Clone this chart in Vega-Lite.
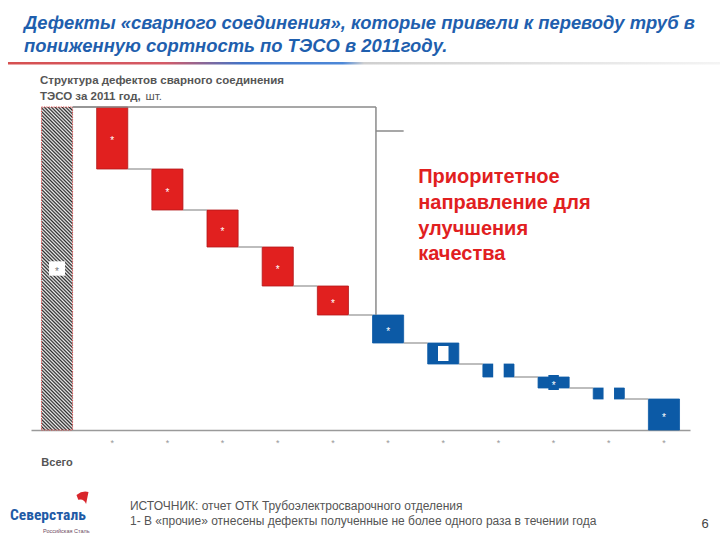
{
  "$schema": "https://vega.github.io/schema/vega-lite/v6.json",
  "autosize": {"type": "none"},
  "width": 659,
  "height": 323,
  "padding": {"left": 31, "right": 30, "top": 107, "bottom": 110},
  "background": "white",
  "config": {"view": {"stroke": null}, "font": "Liberation Sans"},
  "data": {"values": [
    {"cat": "Всего", "group": "Всего", "start": 0, "end": 323},
    {"cat": "Дефект 1", "group": "Приоритет", "start": 323, "end": 261},
    {"cat": "Дефект 2", "group": "Приоритет", "start": 261, "end": 220},
    {"cat": "Дефект 3", "group": "Приоритет", "start": 220, "end": 183},
    {"cat": "Дефект 4", "group": "Приоритет", "start": 183, "end": 144},
    {"cat": "Дефект 5", "group": "Приоритет", "start": 144, "end": 115},
    {"cat": "Дефект 6", "group": "Прочее", "start": 115, "end": 87},
    {"cat": "Дефект 7", "group": "Прочее", "start": 87, "end": 66},
    {"cat": "Дефект 8", "group": "Прочее", "start": 66, "end": 53},
    {"cat": "Дефект 9", "group": "Прочее", "start": 53, "end": 42},
    {"cat": "Дефект 10", "group": "Прочее", "start": 42, "end": 31},
    {"cat": "Прочие", "group": "Прочее", "start": 31, "end": 0}
  ]},
  "encoding": {
    "x": {
      "field": "cat", "type": "nominal", "sort": null,
      "scale": {"domain": ["Всего", "Дефект 1", "Дефект 2", "Дефект 3", "Дефект 4", "Дефект 5", "Дефект 6", "Дефект 7", "Дефект 8", "Дефект 9", "Дефект 10", "Прочие"], "paddingInner": 0.436, "paddingOuter": 0.19},
      "axis": {"title": null, "labelExpr": "datum.value == 'Всего' ? '' : '*'", "labelAngle": 0, "labelColor": "#999999", "labelFontSize": 9, "labelPadding": 8, "ticks": false, "tickSize": 0, "domainColor": "#9a9a9a", "domainWidth": 1.5, "grid": false}
    }
  },
  "layer": [
    {
      "transform": [{"filter": "datum.group == 'Всего'"}],
      "mark": {"type": "bar", "stroke": "#e04848", "strokeWidth": 1, "strokeDash": [1.2, 1.2],
        "fill": {"gradient": "linear", "x1": 0, "y1": 1, "x2": 0.1043, "y2": -0.086, "stops": [
          {"offset":0,"color":"#2a2a2a"},{"offset":0.005,"color":"#f2f2f2"},{"offset":0.01,"color":"#2a2a2a"},{"offset":0.015,"color":"#f2f2f2"},{"offset":0.02,"color":"#2a2a2a"},{"offset":0.025,"color":"#f2f2f2"},{"offset":0.03,"color":"#2a2a2a"},{"offset":0.035,"color":"#f2f2f2"},{"offset":0.04,"color":"#2a2a2a"},{"offset":0.045,"color":"#f2f2f2"},
          {"offset":0.05,"color":"#2a2a2a"},{"offset":0.055,"color":"#f2f2f2"},{"offset":0.06,"color":"#2a2a2a"},{"offset":0.065,"color":"#f2f2f2"},{"offset":0.07,"color":"#2a2a2a"},{"offset":0.075,"color":"#f2f2f2"},{"offset":0.08,"color":"#2a2a2a"},{"offset":0.085,"color":"#f2f2f2"},{"offset":0.09,"color":"#2a2a2a"},{"offset":0.095,"color":"#f2f2f2"},
          {"offset":0.1,"color":"#2a2a2a"},{"offset":0.105,"color":"#f2f2f2"},{"offset":0.11,"color":"#2a2a2a"},{"offset":0.115,"color":"#f2f2f2"},{"offset":0.12,"color":"#2a2a2a"},{"offset":0.125,"color":"#f2f2f2"},{"offset":0.13,"color":"#2a2a2a"},{"offset":0.135,"color":"#f2f2f2"},{"offset":0.14,"color":"#2a2a2a"},{"offset":0.145,"color":"#f2f2f2"},
          {"offset":0.15,"color":"#2a2a2a"},{"offset":0.155,"color":"#f2f2f2"},{"offset":0.16,"color":"#2a2a2a"},{"offset":0.165,"color":"#f2f2f2"},{"offset":0.17,"color":"#2a2a2a"},{"offset":0.175,"color":"#f2f2f2"},{"offset":0.18,"color":"#2a2a2a"},{"offset":0.185,"color":"#f2f2f2"},{"offset":0.19,"color":"#2a2a2a"},{"offset":0.195,"color":"#f2f2f2"},
          {"offset":0.2,"color":"#2a2a2a"},{"offset":0.205,"color":"#f2f2f2"},{"offset":0.21,"color":"#2a2a2a"},{"offset":0.215,"color":"#f2f2f2"},{"offset":0.22,"color":"#2a2a2a"},{"offset":0.225,"color":"#f2f2f2"},{"offset":0.23,"color":"#2a2a2a"},{"offset":0.235,"color":"#f2f2f2"},{"offset":0.24,"color":"#2a2a2a"},{"offset":0.245,"color":"#f2f2f2"},
          {"offset":0.25,"color":"#2a2a2a"},{"offset":0.255,"color":"#f2f2f2"},{"offset":0.26,"color":"#2a2a2a"},{"offset":0.265,"color":"#f2f2f2"},{"offset":0.27,"color":"#2a2a2a"},{"offset":0.275,"color":"#f2f2f2"},{"offset":0.28,"color":"#2a2a2a"},{"offset":0.285,"color":"#f2f2f2"},{"offset":0.29,"color":"#2a2a2a"},{"offset":0.295,"color":"#f2f2f2"},
          {"offset":0.3,"color":"#2a2a2a"},{"offset":0.305,"color":"#f2f2f2"},{"offset":0.31,"color":"#2a2a2a"},{"offset":0.315,"color":"#f2f2f2"},{"offset":0.32,"color":"#2a2a2a"},{"offset":0.325,"color":"#f2f2f2"},{"offset":0.33,"color":"#2a2a2a"},{"offset":0.335,"color":"#f2f2f2"},{"offset":0.34,"color":"#2a2a2a"},{"offset":0.345,"color":"#f2f2f2"},
          {"offset":0.35,"color":"#2a2a2a"},{"offset":0.355,"color":"#f2f2f2"},{"offset":0.36,"color":"#2a2a2a"},{"offset":0.365,"color":"#f2f2f2"},{"offset":0.37,"color":"#2a2a2a"},{"offset":0.375,"color":"#f2f2f2"},{"offset":0.38,"color":"#2a2a2a"},{"offset":0.385,"color":"#f2f2f2"},{"offset":0.39,"color":"#2a2a2a"},{"offset":0.395,"color":"#f2f2f2"},
          {"offset":0.4,"color":"#2a2a2a"},{"offset":0.405,"color":"#f2f2f2"},{"offset":0.41,"color":"#2a2a2a"},{"offset":0.415,"color":"#f2f2f2"},{"offset":0.42,"color":"#2a2a2a"},{"offset":0.425,"color":"#f2f2f2"},{"offset":0.43,"color":"#2a2a2a"},{"offset":0.435,"color":"#f2f2f2"},{"offset":0.44,"color":"#2a2a2a"},{"offset":0.445,"color":"#f2f2f2"},
          {"offset":0.45,"color":"#2a2a2a"},{"offset":0.455,"color":"#f2f2f2"},{"offset":0.46,"color":"#2a2a2a"},{"offset":0.465,"color":"#f2f2f2"},{"offset":0.47,"color":"#2a2a2a"},{"offset":0.475,"color":"#f2f2f2"},{"offset":0.48,"color":"#2a2a2a"},{"offset":0.485,"color":"#f2f2f2"},{"offset":0.49,"color":"#2a2a2a"},{"offset":0.495,"color":"#f2f2f2"},
          {"offset":0.5,"color":"#2a2a2a"},{"offset":0.505,"color":"#f2f2f2"},{"offset":0.51,"color":"#2a2a2a"},{"offset":0.515,"color":"#f2f2f2"},{"offset":0.52,"color":"#2a2a2a"},{"offset":0.525,"color":"#f2f2f2"},{"offset":0.53,"color":"#2a2a2a"},{"offset":0.535,"color":"#f2f2f2"},{"offset":0.54,"color":"#2a2a2a"},{"offset":0.545,"color":"#f2f2f2"},
          {"offset":0.55,"color":"#2a2a2a"},{"offset":0.555,"color":"#f2f2f2"},{"offset":0.56,"color":"#2a2a2a"},{"offset":0.565,"color":"#f2f2f2"},{"offset":0.57,"color":"#2a2a2a"},{"offset":0.575,"color":"#f2f2f2"},{"offset":0.58,"color":"#2a2a2a"},{"offset":0.585,"color":"#f2f2f2"},{"offset":0.59,"color":"#2a2a2a"},{"offset":0.595,"color":"#f2f2f2"},
          {"offset":0.6,"color":"#2a2a2a"},{"offset":0.605,"color":"#f2f2f2"},{"offset":0.61,"color":"#2a2a2a"},{"offset":0.615,"color":"#f2f2f2"},{"offset":0.62,"color":"#2a2a2a"},{"offset":0.625,"color":"#f2f2f2"},{"offset":0.63,"color":"#2a2a2a"},{"offset":0.635,"color":"#f2f2f2"},{"offset":0.64,"color":"#2a2a2a"},{"offset":0.645,"color":"#f2f2f2"},
          {"offset":0.65,"color":"#2a2a2a"},{"offset":0.655,"color":"#f2f2f2"},{"offset":0.66,"color":"#2a2a2a"},{"offset":0.665,"color":"#f2f2f2"},{"offset":0.67,"color":"#2a2a2a"},{"offset":0.675,"color":"#f2f2f2"},{"offset":0.68,"color":"#2a2a2a"},{"offset":0.685,"color":"#f2f2f2"},{"offset":0.69,"color":"#2a2a2a"},{"offset":0.695,"color":"#f2f2f2"},
          {"offset":0.7,"color":"#2a2a2a"},{"offset":0.705,"color":"#f2f2f2"},{"offset":0.71,"color":"#2a2a2a"},{"offset":0.715,"color":"#f2f2f2"},{"offset":0.72,"color":"#2a2a2a"},{"offset":0.725,"color":"#f2f2f2"},{"offset":0.73,"color":"#2a2a2a"},{"offset":0.735,"color":"#f2f2f2"},{"offset":0.74,"color":"#2a2a2a"},{"offset":0.745,"color":"#f2f2f2"},
          {"offset":0.75,"color":"#2a2a2a"},{"offset":0.755,"color":"#f2f2f2"},{"offset":0.76,"color":"#2a2a2a"},{"offset":0.765,"color":"#f2f2f2"},{"offset":0.77,"color":"#2a2a2a"},{"offset":0.775,"color":"#f2f2f2"},{"offset":0.78,"color":"#2a2a2a"},{"offset":0.785,"color":"#f2f2f2"},{"offset":0.79,"color":"#2a2a2a"},{"offset":0.795,"color":"#f2f2f2"},
          {"offset":0.8,"color":"#2a2a2a"},{"offset":0.805,"color":"#f2f2f2"},{"offset":0.81,"color":"#2a2a2a"},{"offset":0.815,"color":"#f2f2f2"},{"offset":0.82,"color":"#2a2a2a"},{"offset":0.825,"color":"#f2f2f2"},{"offset":0.83,"color":"#2a2a2a"},{"offset":0.835,"color":"#f2f2f2"},{"offset":0.84,"color":"#2a2a2a"},{"offset":0.845,"color":"#f2f2f2"},
          {"offset":0.85,"color":"#2a2a2a"},{"offset":0.855,"color":"#f2f2f2"},{"offset":0.86,"color":"#2a2a2a"},{"offset":0.865,"color":"#f2f2f2"},{"offset":0.87,"color":"#2a2a2a"},{"offset":0.875,"color":"#f2f2f2"},{"offset":0.88,"color":"#2a2a2a"},{"offset":0.885,"color":"#f2f2f2"},{"offset":0.89,"color":"#2a2a2a"},{"offset":0.895,"color":"#f2f2f2"},
          {"offset":0.9,"color":"#2a2a2a"},{"offset":0.905,"color":"#f2f2f2"},{"offset":0.91,"color":"#2a2a2a"},{"offset":0.915,"color":"#f2f2f2"},{"offset":0.92,"color":"#2a2a2a"},{"offset":0.925,"color":"#f2f2f2"},{"offset":0.93,"color":"#2a2a2a"},{"offset":0.935,"color":"#f2f2f2"},{"offset":0.94,"color":"#2a2a2a"},{"offset":0.945,"color":"#f2f2f2"},
          {"offset":0.95,"color":"#2a2a2a"},{"offset":0.955,"color":"#f2f2f2"},{"offset":0.96,"color":"#2a2a2a"},{"offset":0.965,"color":"#f2f2f2"},{"offset":0.97,"color":"#2a2a2a"},{"offset":0.975,"color":"#f2f2f2"},{"offset":0.98,"color":"#2a2a2a"},{"offset":0.985,"color":"#f2f2f2"},{"offset":0.99,"color":"#2a2a2a"},{"offset":0.995,"color":"#f2f2f2"},
          {"offset":1,"color":"#2a2a2a"}
        ]}},
      "encoding": {
        "y": {"field": "end", "type": "quantitative", "scale": {"domain": [0, 323], "nice": false, "zero": false}, "axis": null},
        "y2": {"field": "start"}
      }
    },
    {
      "transform": [{"filter": "datum.group != 'Всего'"}],
      "mark": {"type": "bar", "strokeWidth": 0.8},
      "encoding": {
        "y": {"field": "start", "type": "quantitative", "scale": {"domain": [0, 323], "nice": false, "zero": false}, "axis": null},
        "y2": {"field": "end"},
        "fill": {"field": "group", "type": "nominal", "scale": {"domain": ["Приоритет", "Прочее"], "range": ["#e1201f", "#0c5aa6"]}, "legend": null},
        "stroke": {"field": "group", "type": "nominal", "scale": {"domain": ["Приоритет", "Прочее"], "range": ["#b3181b", "#0c5aa6"]}, "legend": null}
      }
    },
    {
      "transform": [
        {"window": [{"op": "lead", "field": "cat", "as": "next"}]},
        {"filter": "datum.next != null"}
      ],
      "mark": {"type": "rule", "color": "#9a9a9a", "strokeWidth": 1.3},
      "encoding": {
        "x": {"field": "cat", "type": "nominal", "bandPosition": 1},
        "x2": {"field": "next", "bandPosition": 0},
        "y": {"field": "end", "type": "quantitative", "scale": {"domain": [0, 323], "nice": false, "zero": false}, "axis": null}
      }
    },
    {
      "data": {"values": [{}]},
      "mark": {"type": "rule", "color": "#8a8a8a", "strokeWidth": 1.5},
      "encoding": {
        "x": {"datum": "Всего", "type": "nominal", "bandPosition": 1},
        "x2": {"datum": "Дефект 6", "bandPosition": 0.11},
        "y": {"datum": 323, "type": "quantitative", "scale": {"domain": [0, 323], "nice": false, "zero": false}, "axis": null}
      }
    },
    {
      "data": {"values": [{}]},
      "mark": {"type": "rule", "color": "#8a8a8a", "strokeWidth": 1.5},
      "encoding": {
        "x": {"datum": "Дефект 6", "type": "nominal", "bandPosition": 0.11},
        "y": {"datum": 323, "type": "quantitative", "scale": {"domain": [0, 323], "nice": false, "zero": false}, "axis": null},
        "y2": {"datum": 115}
      }
    },
    {
      "data": {"values": [{}]},
      "mark": {"type": "rule", "color": "#8a8a8a", "strokeWidth": 1.5},
      "encoding": {
        "x": {"datum": "Дефект 6", "type": "nominal", "bandPosition": 0.11},
        "x2": {"datum": "Дефект 6", "bandPosition": 1},
        "y": {"datum": 299, "type": "quantitative", "scale": {"domain": [0, 323], "nice": false, "zero": false}, "axis": null}
      }
    },
    {
      "transform": [
        {"fold": ["start", "end"], "as": ["edge", "level"]},
        {"aggregate": [{"op": "mean", "field": "level", "as": "mid"}], "groupby": ["cat", "group"]},
        {"filter": "datum.cat == 'Дефект 7' || datum.cat == 'Дефект 8' || datum.cat == 'Дефект 9' || datum.cat == 'Дефект 10'"}
      ],
      "mark": {"type": "point", "filled": true, "opacity": 1, "strokeWidth": 0, "shape": "M-0.7,-1H0.7V1H-0.7Z", "size": 225},
      "encoding": {
        "y": {"field": "mid", "type": "quantitative", "scale": {"domain": [0, 323], "nice": false, "zero": false}, "axis": null},
        "color": {"condition": {"test": "datum.cat == 'Дефект 9'", "value": "#0c5aa6"}, "value": "#ffffff"}
      }
    },
    {
      "transform": [
        {"fold": ["start", "end"], "as": ["edge", "level"]},
        {"aggregate": [{"op": "mean", "field": "level", "as": "mid"}], "groupby": ["cat", "group"]},
        {"filter": "datum.cat == 'Всего'"}
      ],
      "mark": {"type": "point", "filled": true, "opacity": 1, "strokeWidth": 0, "shape": "M-1,-0.9H1V0.9H-1Z", "size": 256, "color": "#ffffff"},
      "encoding": {
        "y": {"field": "mid", "type": "quantitative", "scale": {"domain": [0, 323], "nice": false, "zero": false}, "axis": null}
      }
    },
    {
      "transform": [
        {"fold": ["start", "end"], "as": ["edge", "level"]},
        {"aggregate": [{"op": "mean", "field": "level", "as": "mid"}], "groupby": ["cat", "group"]},
        {"filter": "datum.cat != 'Дефект 7' && datum.cat != 'Дефект 8' && datum.cat != 'Дефект 10'"}
      ],
      "mark": {"type": "text", "text": "*", "fontSize": 10, "baseline": "middle", "align": "center", "dy": 3},
      "encoding": {
        "y": {"field": "mid", "type": "quantitative", "scale": {"domain": [0, 323], "nice": false, "zero": false}, "axis": null},
        "color": {"condition": {"test": "datum.cat == 'Всего'", "value": "#777777"}, "value": "#ffffff"}
      }
    },
    {
      "data": {"values": [{}]},
      "mark": {"type": "text", "text": "Всего", "fontSize": 11, "fontWeight": "bold", "color": "#555555", "align": "center", "baseline": "alphabetic"},
      "encoding": {
        "x": {"datum": "Всего", "type": "nominal", "bandPosition": 0.5},
        "y": {"datum": -36, "type": "quantitative", "scale": {"domain": [0, 323], "nice": false, "zero": false}, "axis": null}
      }
    },
    {
      "data": {"values": [{}]},
      "mark": {"type": "text", "text": ["Дефекты «сварного соединения», которые привели к переводу труб в", "пониженную сортность по ТЭСО в 2011году."], "fontSize": 18.4, "fontWeight": "bold", "fontStyle": "italic", "color": "#1f5fae", "align": "left", "baseline": "top", "lineHeight": 23, "dx": -17.5},
      "encoding": {
        "x": {"datum": "Всего", "type": "nominal", "bandPosition": 0},
        "y": {"datum": 416, "type": "quantitative", "scale": {"domain": [0, 323], "nice": false, "zero": false}, "axis": null}
      }
    },
    {
      "data": {"values": [{}]},
      "mark": {"type": "rect", "xOffset": -33.5, "x2Offset": 40.5,
        "fill": {"gradient": "linear", "x1": 0, "y1": 0, "x2": 1, "y2": 0, "stops": [
          {"offset": 0, "color": "#d65050"}, {"offset": 0.22, "color": "#d45a66"}, {"offset": 0.33, "color": "#3f74c8"}, {"offset": 0.47, "color": "#4d88d8"}, {"offset": 0.5, "color": "#cfcfcf"}, {"offset": 1, "color": "#f4f4f4"}
        ]}},
      "encoding": {
        "x": {"datum": "Всего", "type": "nominal", "bandPosition": 0},
        "x2": {"datum": "Прочие", "bandPosition": 1},
        "y": {"datum": 368, "type": "quantitative", "scale": {"domain": [0, 323], "nice": false, "zero": false}, "axis": null},
        "y2": {"datum": 365.5}
      }
    },
    {
      "data": {"values": [{}]},
      "mark": {"type": "text", "text": ["Структура дефектов сварного соединения", "ТЭСО за 2011 год,"], "fontSize": 11.5, "fontWeight": "bold", "color": "#555555", "align": "left", "baseline": "top", "lineHeight": 16, "dx": -1.5},
      "encoding": {
        "x": {"datum": "Всего", "type": "nominal", "bandPosition": 0},
        "y": {"datum": 355, "type": "quantitative", "scale": {"domain": [0, 323], "nice": false, "zero": false}, "axis": null}
      }
    },
    {
      "data": {"values": [{}]},
      "mark": {"type": "text", "text": "шт.", "fontSize": 11.5, "color": "#555555", "align": "left", "baseline": "top", "dx": 104},
      "encoding": {
        "x": {"datum": "Всего", "type": "nominal", "bandPosition": 0},
        "y": {"datum": 339, "type": "quantitative", "scale": {"domain": [0, 323], "nice": false, "zero": false}, "axis": null}
      }
    },
    {
      "data": {"values": [{}]},
      "mark": {"type": "text", "text": ["Приоритетное", "направление для", "улучшения", "качества"], "fontSize": 20, "fontWeight": "bold", "color": "#e1201f", "align": "left", "baseline": "top", "lineHeight": 25.7, "dx": -9.5},
      "encoding": {
        "x": {"datum": "Дефект 7", "type": "nominal", "bandPosition": 0},
        "y": {"datum": 262.6, "type": "quantitative", "scale": {"domain": [0, 323], "nice": false, "zero": false}, "axis": null}
      }
    },
    {
      "data": {"values": [{}]},
      "mark": {"type": "text", "text": ["ИСТОЧНИК: отчет ОТК Трубоэлектросварочного отделения", "1- В «прочие» отнесены дефекты полученные не более одного раза в течении года"], "fontSize": 12, "color": "#555555", "align": "left", "baseline": "top", "lineHeight": 15, "dx": 33.3},
      "encoding": {
        "x": {"datum": "Дефект 1", "type": "nominal", "bandPosition": 0},
        "y": {"datum": -71, "type": "quantitative", "scale": {"domain": [0, 323], "nice": false, "zero": false}, "axis": null}
      }
    },
    {
      "data": {"values": [{}]},
      "mark": {"type": "text", "text": "Северсталь", "font": "Roboto Condensed, DejaVu Sans Condensed, Liberation Sans", "fontSize": 15.5, "fontWeight": "bold", "color": "#1f5ba6", "align": "left", "baseline": "alphabetic", "dx": -31.5},
      "encoding": {
        "x": {"datum": "Всего", "type": "nominal", "bandPosition": 0},
        "y": {"datum": -90, "type": "quantitative", "scale": {"domain": [0, 323], "nice": false, "zero": false}, "axis": null}
      }
    },
    {
      "data": {"values": [{}]},
      "mark": {"type": "text", "text": "Российская Сталь", "fontSize": 5.5, "color": "#6d4a5e", "align": "left", "baseline": "alphabetic", "dx": 1.5},
      "encoding": {
        "x": {"datum": "Всего", "type": "nominal", "bandPosition": 0},
        "y": {"datum": -103, "type": "quantitative", "scale": {"domain": [0, 323], "nice": false, "zero": false}, "axis": null}
      }
    },
    {
      "data": {"values": [{}]},
      "mark": {"type": "point", "filled": true, "opacity": 1, "strokeWidth": 0, "color": "#d9262c", "size": 144, "xOffset": 41, "shape": "M-1,-0.5Q0,-1.3 1,-1L0.6,1Q0.2,0 -0.7,0.3Z"},
      "encoding": {
        "x": {"datum": "Всего", "type": "nominal", "bandPosition": 0},
        "y": {"datum": -68, "type": "quantitative", "scale": {"domain": [0, 323], "nice": false, "zero": false}, "axis": null}
      }
    },
    {
      "data": {"values": [{}]},
      "mark": {"type": "text", "text": "6", "fontSize": 13, "color": "#444444", "align": "center", "baseline": "alphabetic", "dx": 25.5},
      "encoding": {
        "x": {"datum": "Прочие", "type": "nominal", "bandPosition": 1},
        "y": {"datum": -98, "type": "quantitative", "scale": {"domain": [0, 323], "nice": false, "zero": false}, "axis": null}
      }
    }
  ]
}
